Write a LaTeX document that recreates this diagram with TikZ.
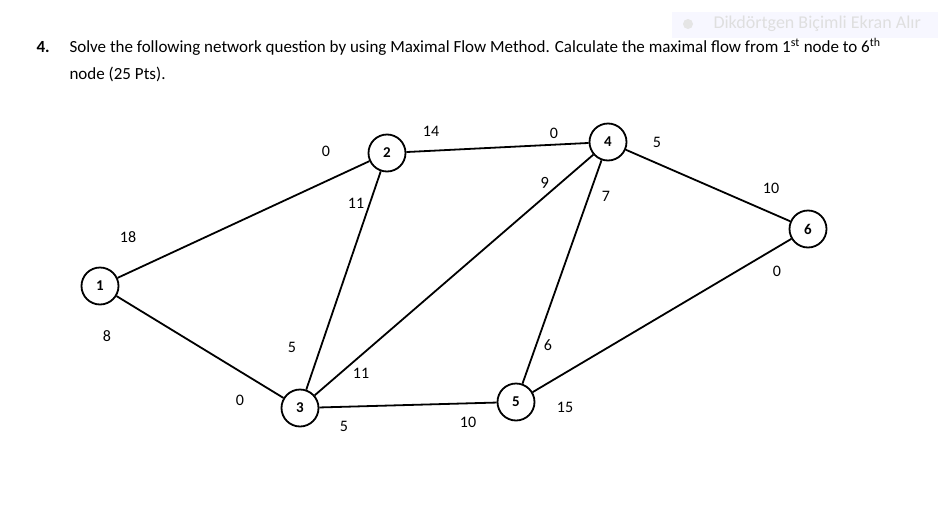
\documentclass[tikz,border=0pt]{standalone}
\usepackage{fontspec}
\setmainfont{Carlito}
\begin{document}
\begin{tikzpicture}[x=1pt,y=-1pt,
  nd/.style={circle,draw,line width=1.8pt,minimum size=37pt,inner sep=0pt,font=\bfseries\fontsize{15}{17}\selectfont},
  lbl/.style={font=\fontsize{16}{18}\selectfont},
  edge/.style={line width=1.8pt}]
\useasboundingbox (0,0) rectangle (938,509);
\fill[blue!3] (672,12) rectangle (938,38);
\fill[gray!20] (688,24) circle (5);
\node[anchor=west,text=gray!25,font=\fontsize{18}{20}\selectfont] (wm) at (710,24) {Dikdörtgen Biçimli Ekran Alır};
\node[anchor=west,font=\bfseries\fontsize{17}{19}\selectfont] (num) at (33,47) {4.};
\node[anchor=west,font=\fontsize{17}{19}\selectfont] (t1) at (66,47) {Solve the following network question by using Maximal Flow Method. Calculate the maximal flow from 1\textsuperscript{st} node to 6\textsuperscript{th}};
\node[anchor=west,font=\fontsize{17}{19}\selectfont] (t2) at (66,74) {node (25 Pts).};
\node[nd] (n1) at (100,286) {1};
\node[nd] (n2) at (387,153) {2};
\node[nd] (n3) at (300,408) {3};
\node[nd] (n4) at (608,142) {4};
\node[nd] (n5) at (516,402) {5};
\node[nd] (n6) at (808,229) {6};
\draw[edge] (n1)--(n2); \draw[edge] (n1)--(n3);
\draw[edge] (n2)--(n4); \draw[edge] (n2)--(n3);
\draw[edge] (n3)--(n4); \draw[edge] (n3)--(n5);
\draw[edge] (n4)--(n5); \draw[edge] (n4)--(n6);
\draw[edge] (n5)--(n6);
\node[lbl] (a) at (128,237) {18};
\node[lbl] (b) at (107,336) {8};
\node[lbl] (c) at (326,151) {0};
\node[lbl] (d) at (356,203) {11};
\node[lbl] (e) at (431,131) {14};
\node[lbl] (f) at (554,133) {0};
\node[lbl,rotate=180] (g) at (545,183) {6};
\node[lbl] (h) at (606,196) {7};
\node[lbl] (i) at (657,142) {5};
\node[lbl] (j) at (771,188) {10};
\node[lbl] (k) at (777,271) {0};
\node[lbl] (l) at (292,347) {5};
\node[lbl] (m) at (361,373) {11};
\node[lbl] (o) at (240,400) {0};
\node[lbl] (p) at (344,426) {5};
\node[lbl] (q) at (468,422) {10};
\node[lbl] (r) at (565,407) {15};
\node[lbl] (s) at (548,345) {6};
\end{tikzpicture}
\end{document}
